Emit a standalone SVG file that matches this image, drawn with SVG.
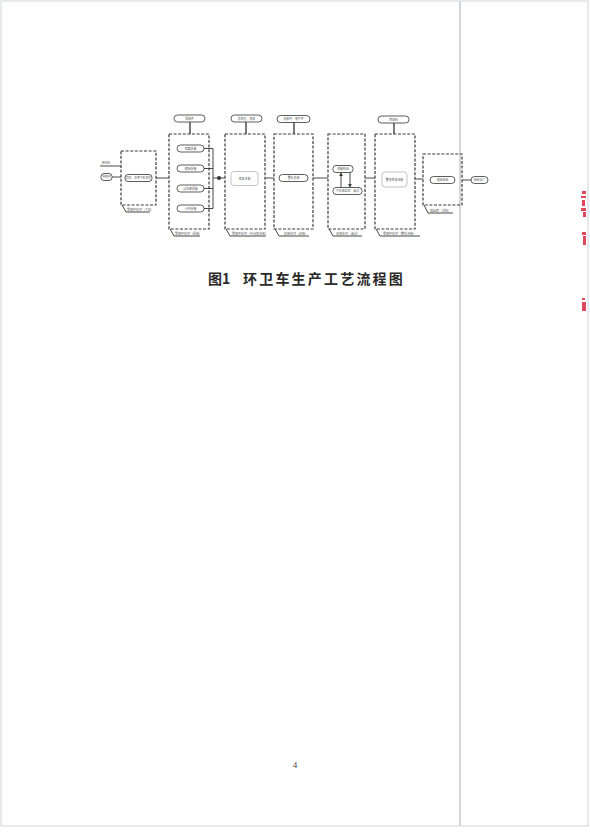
<svg xmlns="http://www.w3.org/2000/svg" width="590" height="834" viewBox="0 0 590 834">
<style>
.dash{fill:none;stroke:#3a3a3a;stroke-width:1.2;stroke-dasharray:3 1.6}
.rb{fill:#fff;stroke:#333;stroke-width:0.8}
.rbl{fill:#fff;stroke:#aaa;stroke-width:0.7}
.ln{fill:none;stroke:#333;stroke-width:0.9}
.tk{fill:none;stroke:#333;stroke-width:1.3}
.t{font-family:"Noto Sans CJK SC","Noto Sans",sans-serif;font-size:2.9px;fill:#555;text-anchor:middle}
.lb{font-family:"Noto Sans CJK SC","Noto Sans",sans-serif;font-size:3px;fill:#555}
</style>
<defs>
<marker id="ah" viewBox="0 0 6 6" refX="5" refY="3" markerWidth="4" markerHeight="4" orient="auto"><path d="M0,0L6,3L0,6z" fill="#333"/></marker>
</defs>
<rect x="0" y="0" width="590" height="834" fill="#fff"/>
<rect x="1" y="1" width="587" height="825" fill="none" stroke="#cfd3da" stroke-width="1"/>
<line x1="460" y1="1" x2="460" y2="826" stroke="#d4d4dc" stroke-width="2"/>
<g id="stamp" fill="#e0485a">
<rect x="582" y="191" width="4" height="3"/><rect x="581" y="196" width="5" height="2"/><rect x="582" y="200" width="3" height="6"/><rect x="581" y="208" width="5" height="3"/><rect x="583" y="212" width="3" height="5"/>
<rect x="582" y="232" width="4" height="3"/><rect x="583" y="236" width="3" height="9"/>
<rect x="582" y="298" width="3" height="2"/><rect x="582" y="302" width="4" height="9"/>
</g>

<g id="connectors">
<line class="ln" x1="100" y1="166" x2="121" y2="166"/>
<line class="ln" x1="112" y1="177" x2="121" y2="177"/>
<line class="ln" x1="156" y1="178" x2="169" y2="178"/>
<line class="tk" x1="190" y1="122" x2="190" y2="134"/>
<line class="ln" x1="204" y1="148.5" x2="213" y2="148.5"/>
<line class="ln" x1="204" y1="168.5" x2="213" y2="168.5"/>
<line class="ln" x1="204" y1="188.5" x2="213" y2="188.5"/>
<line class="ln" x1="204" y1="208.5" x2="213" y2="208.5"/>
<line class="ln" x1="213" y1="148.5" x2="213" y2="208.5"/>
<line class="ln" x1="213" y1="178" x2="225" y2="178"/>
<circle cx="219" cy="178" r="2" fill="#333"/>
<line class="tk" x1="246" y1="122" x2="246" y2="134"/>
<line class="ln" x1="265" y1="178" x2="274" y2="178"/>
<line class="tk" x1="294" y1="122" x2="294" y2="134"/>
<line class="ln" x1="313" y1="178" x2="328" y2="178"/>
<line class="ln" x1="365" y1="178" x2="375" y2="178"/>
<line class="tk" x1="394" y1="123" x2="394" y2="134"/>
<line class="ln" x1="415" y1="179" x2="423" y2="179"/>
<line class="ln" x1="462" y1="180" x2="471" y2="180"/>
<line class="ln" x1="341" y1="188" x2="341" y2="173" marker-end="url(#ah)"/>
<line class="ln" x1="350" y1="172" x2="350" y2="187" marker-end="url(#ah)"/>
</g>

<g id="inputs">
<text class="t" x="106" y="164">原材料</text>
<rect class="rb" x="101" y="173.5" width="11" height="7" rx="3"/>
<text class="t" x="106.5" y="178.1">外购件</text>
</g>

<g id="box1">
<rect class="dash" x="121" y="151" width="35" height="54"/>
<rect class="rb" x="125" y="174.5" width="27" height="7" rx="3"/>
<text class="t" x="138.5" y="179">切割、折弯下料处理</text>
<polyline class="ln" points="122,205 126,212 150,212"/>
<text class="lb" x="127" y="210.5">零部件车间（下料）</text>
</g>

<g id="box2">
<rect class="rb" x="174" y="115" width="31" height="7" rx="3.5" stroke-width="1"/>
<text class="t" x="189.5" y="119.5">零部件</text>
<rect class="dash" x="169" y="134" width="40" height="95"/>
<rect class="rb" x="177" y="145" width="27" height="7" rx="3.5"/>
<text class="t" x="190.5" y="149.5">底盘焊接</text>
<rect class="rb" x="177" y="165" width="27" height="7" rx="3.5"/>
<text class="t" x="190.5" y="169.5">箱体焊接</text>
<rect class="rb" x="177" y="185" width="27" height="7" rx="3.5"/>
<text class="t" x="190.5" y="189.5">副车架焊接</text>
<rect class="rb" x="177" y="205" width="27" height="7" rx="3.5"/>
<text class="t" x="190.5" y="209.5">小件焊接</text>
<polyline class="ln" points="170,229 174,236 200,236"/>
<text class="lb" x="175" y="234.5">零部件车间（焊装）</text>
</g>

<g id="box3">
<rect class="rb" x="231" y="115" width="31" height="7" rx="3.5" stroke-width="1"/>
<text class="t" x="246.5" y="119.5">前处理、底漆</text>
<rect class="dash" x="225" y="134" width="40" height="95"/>
<rect class="rbl" x="231" y="171.5" width="27" height="14" rx="3"/>
<text class="t" x="244.5" y="179.5">底漆涂装</text>
<polyline class="ln" points="226,229 230,236 266,236"/>
<text class="lb" x="232" y="234.5">零部件车间（中涂底涂装）</text>
</g>

<g id="box4">
<rect class="rb" x="277" y="115.5" width="33" height="7" rx="3.5" stroke-width="1"/>
<text class="t" x="293.5" y="120">总装件、电气件</text>
<rect class="dash" x="274" y="134" width="39" height="95"/>
<rect class="rb" x="279" y="174.5" width="29" height="7" rx="3.5"/>
<text class="t" x="293.5" y="179">整车总装</text>
<polyline class="ln" points="275,229 279,236 309,236"/>
<text class="lb" x="284" y="234.5">总装车间（总装）</text>
</g>

<g id="box5">
<rect class="dash" x="328" y="134" width="37" height="95"/>
<rect class="rb" x="333" y="165.5" width="20" height="7" rx="3"/>
<text class="t" x="343" y="170">性能检验</text>
<rect class="rb" x="333" y="187.5" width="29" height="7" rx="3"/>
<text class="t" x="347.5" y="192">不合格返修、调试</text>
<polyline class="ln" points="329,229 333,236 362,236"/>
<text class="lb" x="336" y="234.5">总装车间（调试）</text>
</g>

<g id="box6">
<rect class="rb" x="378" y="116" width="31" height="7" rx="3.5" stroke-width="1"/>
<text class="t" x="393.5" y="120.5">面漆料</text>
<rect class="dash" x="375" y="134" width="40" height="95"/>
<rect class="rbl" x="382" y="172" width="25" height="15" rx="3"/>
<text class="t" x="394.5" y="180.5">整车面漆涂装</text>
<polyline class="ln" points="376,229 380,236 420,236"/>
<text class="lb" x="383" y="234.5">零部件车间（整车涂装）</text>
</g>

<g id="box7">
<rect class="dash" x="423" y="154" width="39" height="51"/>
<rect class="rb" x="430" y="176.5" width="25" height="7" rx="3.5"/>
<text class="t" x="442.5" y="181">成品检验</text>
<polyline class="ln" points="424,205 428,213 453,213"/>
<text class="lb" x="430" y="211.5">成品库（交检）</text>
</g>

<g id="end">
<rect class="rb" x="471" y="176.5" width="17" height="7" rx="3.5"/>
<text class="t" x="479.5" y="181">检验出厂</text>
</g>

<g id="caption" font-family="'Noto Sans CJK SC',sans-serif" font-weight="bold" font-size="14" fill="#2a2a2a">
<text x="208" y="284">图1</text>
<text x="243" y="284" letter-spacing="2.2">环卫车生产工艺流程图</text>
</g>
<text x="295" y="768" font-family="'Liberation Serif',serif" font-size="9" fill="#444" text-anchor="middle">4</text>
</svg>
